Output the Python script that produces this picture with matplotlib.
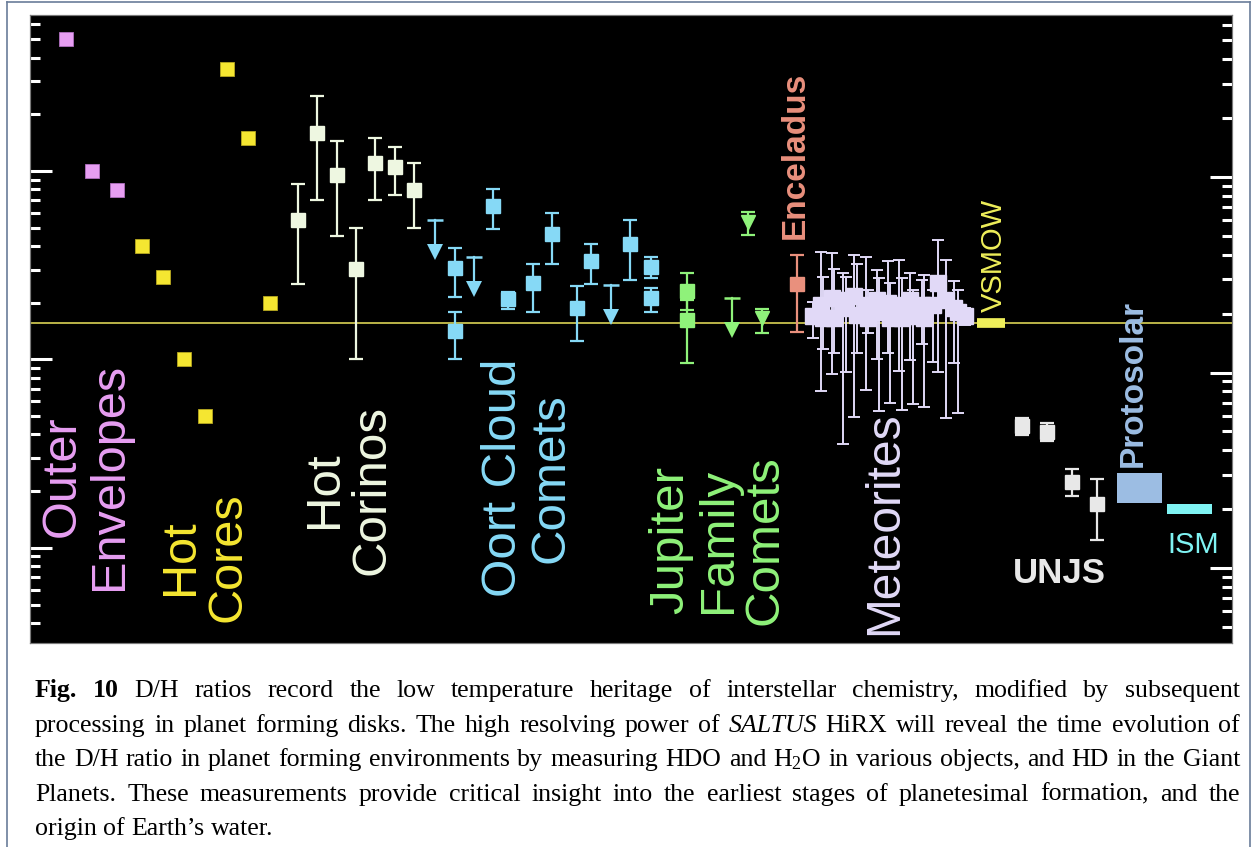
import matplotlib
matplotlib.use('Agg')
import matplotlib.pyplot as plt
from matplotlib.ticker import LogLocator, NullFormatter
from matplotlib.transforms import IdentityTransform
from matplotlib.lines import Line2D

plt.rcParams['font.family'] = ['Liberation Sans', 'DejaVu Sans']
plt.rcParams['mathtext.fontset'] = 'custom'
plt.rcParams['mathtext.rm'] = 'Liberation Serif'
plt.rcParams['mathtext.it'] = 'Liberation Serif:italic'

W, H = 1254, 847

# ---- D/H values ----
vsmow = 1.5576e-4

# outer envelopes
oe_x = [36, 62, 87]
oe_dh = [5.0e-3, 1.0e-3, 7.9e-4]

# hot cores
hc_x = [112, 133, 154, 175, 197, 218, 240]
hc_dh = [4.0e-4, 2.74e-4, 1.0e-4, 5.0e-5, 3.48e-3, 1.50e-3, 1.99e-4]

# hot corinos
hcor_x = [268, 287, 307, 326, 345, 365, 384]
hcor_dh = [5.50e-4, 1.59e-3, 9.52e-4, 3.02e-4, 1.10e-3, 1.05e-3, 7.93e-4]
hcor_hi = [8.53e-4, 2.50e-3, 1.44e-3, 4.98e-4, 1.50e-3, 1.34e-3, 1.10e-3]
hcor_lo = [2.51e-4, 7.02e-4, 4.52e-4, 1.00e-4, 7.02e-4, 7.46e-4, 4.98e-4]

# oort cloud comets
oc_x = [425, 425, 463, 478, 503, 522, 547, 561, 600, 621, 621]
oc_dh = [3.06e-4, 1.41e-4, 6.52e-4, 2.09e-4, 2.54e-4, 4.63e-4, 1.87e-4, 3.33e-4, 4.10e-4, 3.09e-4, 2.12e-4]
oc_hi = [3.90e-4, 1.78e-4, 8.02e-4, 2.28e-4, 3.21e-4, 5.98e-4, 2.45e-4, 4.10e-4, 5.50e-4, 3.50e-4, 2.39e-4]
oc_lo = [2.14e-4, 1.00e-4, 4.92e-4, 1.85e-4, 1.78e-4, 3.21e-4, 1.25e-4, 2.51e-4, 2.64e-4, 2.70e-4, 1.78e-4]
oc_lim_x = [405, 444, 581]
oc_lim = [5.50e-4, 3.50e-4, 2.48e-4]

# jupiter family comets
jfc_x = [657, 657]
jfc_dh = [2.31e-4, 1.62e-4]
jfc_hi = [2.87e-4, 2.07e-4]
jfc_lo = [1.83e-4, 9.57e-5]
jfc_tri_x = [718, 732]
jfc_tri = [5.36e-4, 1.66e-4]
jfc_tri_hi = [6.06e-4, 1.85e-4]
jfc_tri_lo = [4.57e-4, 1.38e-4]
jfc_lim_x = [702]
jfc_lim = [2.12e-4]

# enceladus
enc_x = [767]
enc_dh = [2.51e-4]
enc_hi = [3.58e-4]
enc_lo = [1.40e-4]

# meteorites
met_x = [783, 791, 793, 802, 804, 813, 816, 824, 827, 836, 838, 847, 849, 858,
         860, 869, 872, 880, 883, 892, 894, 903, 908, 916, 924, 928, 935]
met_dh = [1.70e-4, 1.94e-4, 1.66e-4, 2.12e-4, 1.66e-4, 1.87e-4, 2.07e-4, 2.17e-4, 1.72e-4,
          1.94e-4, 1.66e-4, 2.07e-4, 1.79e-4, 1.99e-4, 1.66e-4, 1.94e-4, 1.66e-4, 2.07e-4,
          1.70e-4, 1.94e-4, 1.66e-4, 1.94e-4, 2.54e-4, 2.07e-4, 1.87e-4, 1.79e-4, 1.70e-4]
met_hi = [2.02e-4, 3.72e-4, 2.74e-4, 3.67e-4, 3.02e-4, 2.88e-4, 2.74e-4, 3.58e-4, 3.21e-4,
          3.50e-4, 2.34e-4, 2.98e-4, 2.71e-4, 3.33e-4, 2.54e-4, 3.37e-4, 2.71e-4, 2.88e-4,
          2.34e-4, 2.64e-4, 2.81e-4, 2.34e-4, 4.30e-4, 3.37e-4, 2.61e-4, 2.34e-4, 1.87e-4]
met_lo = [1.30e-4, 6.80e-5, 1.14e-4, 8.37e-5, 1.08e-4, 3.56e-5, 8.57e-5, 4.95e-5, 1.08e-4,
          6.88e-5, 1.38e-4, 1.00e-4, 5.32e-5, 1.08e-4, 5.87e-5, 8.68e-5, 5.39e-5, 9.93e-5,
          5.80e-5, 1.21e-4, 5.59e-5, 9.69e-5, 8.57e-5, 4.89e-5, 9.57e-5, 5.19e-5, 1.52e-4]

# vsmow marker
vs_x = [947, 975]

# uranus, neptune, jupiter, saturn
unjs_x = [992, 1017, 1042, 1067]
unjs_dh = [4.43e-5, 4.12e-5, 2.23e-5, 1.71e-5]
unjs_hi = [4.89e-5, 4.60e-5, 2.62e-5, 2.32e-5]
unjs_lo = [3.97e-5, 3.69e-5, 1.88e-5, 1.10e-5]

# protosolar and ISM ranges
ps_x = [1087, 1132]
ps_range = [1.73e-5, 2.49e-5]
ism_x = [1137, 1182]
ism_range = [1.51e-5, 1.71e-5]

# colours
c_oe = '#e79ef2'
c_hc = '#f5e631'
c_hcor = '#eef7e1'
c_oc = '#86d9f6'
c_jfc = '#8ff27a'
c_enc = '#e9907d'
c_met = '#e1d9f7'
c_unjs = '#e8e8e8'
c_ps = '#9cbde3'
c_ism = '#7ff3f3'
c_vs = '#eeee5a'

fig = plt.figure(figsize=(W / 100, H / 100), dpi=100, facecolor='white')
ax = fig.add_axes([30 / W, 1 - 643 / H, 1202 / W, 628 / H])
ax.set_facecolor('black')
ax.set_yscale('log')
ax.set_xlim(0, 1202)
ax.set_ylim(3.126e-6, 6.73e-3)
ax.set_xticks([])

ax.axhline(vsmow, color='#c9c24e', lw=1.3, zorder=1)

ebkw = dict(fmt='s', elinewidth=1.6, capsize=5, capthick=1.6, zorder=3)

ax.plot(oe_x, oe_dh, 's', color=c_oe, ms=10.5, mec='#b070c0', mew=0.6, zorder=3)
ax.plot(hc_x, hc_dh, 's', color=c_hc, ms=10.5, mec='#b8a820', mew=0.6, zorder=3)


def errs(v, lo, hi):
    return [[a - b for a, b in zip(v, lo)], [b - a for a, b in zip(v, hi)]]


ax.errorbar(hcor_x, hcor_dh, yerr=errs(hcor_dh, hcor_lo, hcor_hi), color=c_hcor, ms=9.5, **ebkw)
ax.errorbar(oc_x, oc_dh, yerr=errs(oc_dh, oc_lo, oc_hi), color=c_oc, ms=10, **ebkw)
ax.errorbar(jfc_x, jfc_dh, yerr=errs(jfc_dh, jfc_lo, jfc_hi), color=c_jfc, ms=10, **ebkw)
ax.errorbar(jfc_tri_x, jfc_tri, yerr=errs(jfc_tri, jfc_tri_lo, jfc_tri_hi), color=c_jfc,
            fmt='v', ms=10.5, elinewidth=1.6, capsize=5, capthick=1.6, zorder=3)
ax.errorbar(enc_x, enc_dh, yerr=errs(enc_dh, enc_lo, enc_hi), color=c_enc, ms=10, **ebkw)
ax.errorbar(met_x, met_dh, yerr=errs(met_dh, met_lo, met_hi), color=c_met, fmt='s', ms=11.5,
            elinewidth=1.4, capsize=4.5, capthick=1.4, zorder=3)
ax.errorbar(unjs_x, unjs_dh, yerr=errs(unjs_dh, unjs_lo, unjs_hi), color=c_unjs, ms=10, **ebkw)


def upper_limits(xs, vals, color):
    for x, v in zip(xs, vals):
        tip = v * 0.676
        ax.plot([x, x], [v, tip], color=color, lw=1.6, zorder=3)
        ax.plot([x], [v], marker='_', ms=11.5, mew=1.8, color=color, zorder=3)
        ax.plot([x], [tip], marker='v', ms=11.5, mew=0, color=color, zorder=3)


upper_limits(oc_lim_x, oc_lim, c_oc)
upper_limits(jfc_lim_x, jfc_lim, c_jfc)

ax.plot(vs_x, [vsmow, vsmow], color=c_vs, lw=7, solid_capstyle='butt', zorder=3)
ax.fill_between(ps_x, ps_range[0], ps_range[1], color=c_ps, lw=0, zorder=3)
ax.fill_between(ism_x, ism_range[0], ism_range[1], color=c_ism, lw=0, zorder=3)

# group labels
lab = dict(transform=ax.transAxes, ha='center', va='center', multialignment='center',
           linespacing=1.07)
ax.text(0.0466, 0.266, 'Outer\nEnvelopes', rotation=90, fontsize=35, color=c_oe, **lab)
ax.text(0.1448, 0.137, 'Hot\nCores', rotation=90, fontsize=35, color=c_hc, **lab)
ax.text(0.2646, 0.2436, 'Hot\nCorinos', rotation=90, fontsize=35.5, color=c_hcor, **lab)
ax.text(0.4135, 0.2627, 'Oort Cloud\nComets', rotation=90, fontsize=35.5, color=c_oc, **lab)
ax.text(0.5724, 0.164, 'Jupiter\nFamily\nComets', rotation=90, fontsize=35.5, color=c_jfc, **lab)
ax.text(0.7113, 0.1911, 'Meteorites', rotation=90, fontsize=34.5, color=c_met, **lab)
ax.text(0.6364, 0.777, 'Enceladus', rotation=90, fontsize=24, weight='bold', color=c_enc, **lab)
ax.text(0.802, 0.6178, 'VSMOW', rotation=90, fontsize=21, color=c_vs, **lab)
ax.text(0.9176, 0.414, 'Protosolar', rotation=90, fontsize=24, weight='bold', color=c_ps, **lab)
ax.text(0.856, 0.1099, 'UNJS', fontsize=25, weight='bold', color=c_unjs, **lab)
ax.text(0.9676, 0.156, 'ISM', fontsize=21, color=c_ism, **lab)

for sp in ax.spines.values():
    sp.set_color('#7a7a7a')
    sp.set_linewidth(0.8)

# left ticks
ax.yaxis.set_major_locator(LogLocator(base=10, numticks=20))
ax.yaxis.set_minor_locator(LogLocator(base=10, subs=range(2, 10), numticks=60))
ax.yaxis.set_minor_formatter(NullFormatter())
ax.tick_params(axis='y', which='both', direction='in', colors='white', left=True,
               right=False, labelleft=False, width=2.2)
ax.tick_params(axis='y', which='major', length=15.8)
ax.tick_params(axis='y', which='minor', length=7.2)

# right ticks on a slightly different scale
ax2 = ax.twinx()
ax2.set_yscale('log')
ax2.set_ylim(4.13e-6, 6.75e-3)
ax2.yaxis.set_major_locator(LogLocator(base=10, numticks=20))
ax2.yaxis.set_minor_locator(LogLocator(base=10, subs=range(2, 10), numticks=60))
ax2.yaxis.set_minor_formatter(NullFormatter())
ax2.tick_params(axis='y', which='both', direction='in', colors='white', right=True,
                left=False, labelright=False, width=2.2)
ax2.tick_params(axis='y', which='major', length=15.8)
ax2.tick_params(axis='y', which='minor', length=7.2)
for sp in ax2.spines.values():
    sp.set_color('#7a7a7a')
    sp.set_linewidth(0.8)

# page border
for xs, ys in [([7, 7], [0, H - 2]), ([7, 1250], [H - 2, H - 2]), ([1250, 1250], [0, H - 2])]:
    fig.add_artist(Line2D(xs, ys, transform=IdentityTransform(), color='#6a7d99', lw=1.2))

# caption, justified
caption = [
    "Fig. 10 D/H ratios record the low temperature heritage of interstellar chemistry, modified by subsequent",
    "processing in planet forming disks. The high resolving power of SALTUS HiRX will reveal the time evolution of",
    "the D/H ratio in planet forming environments by measuring HDO and H$_2$O in various objects, and HD in the Giant",
    "Planets. These measurements provide critical insight into the earliest stages of planetesimal formation, and the",
    "origin of Earth\u2019s water.",
]
cap_left, cap_right = 35, 1240
cap_base, cap_step = 697, 34.5
cap_size = 18.6
renderer = fig.canvas.get_renderer()
space_w = 0.25 * cap_size * 100 / 72
for i, line in enumerate(caption):
    words = line.split(' ')
    arts = []
    for j, w in enumerate(words):
        weight = 'bold' if (i == 0 and j < 2) else 'normal'
        style = 'italic' if w == 'SALTUS' else 'normal'
        t = fig.text(0, H - (cap_base + i * cap_step), w, transform=IdentityTransform(),
                     family='Liberation Serif', fontsize=cap_size, weight=weight,
                     style=style, ha='left', va='baseline', color='black')
        arts.append(t)
    widths = [a.get_window_extent(renderer).width for a in arts]
    if i < len(caption) - 1:
        gap = (cap_right - cap_left - sum(widths)) / (len(arts) - 1)
    else:
        gap = space_w
    x = cap_left
    for a, wd in zip(arts, widths):
        a.set_x(x)
        x += wd + gap

fig.savefig('out.png', dpi=100, facecolor='white')
